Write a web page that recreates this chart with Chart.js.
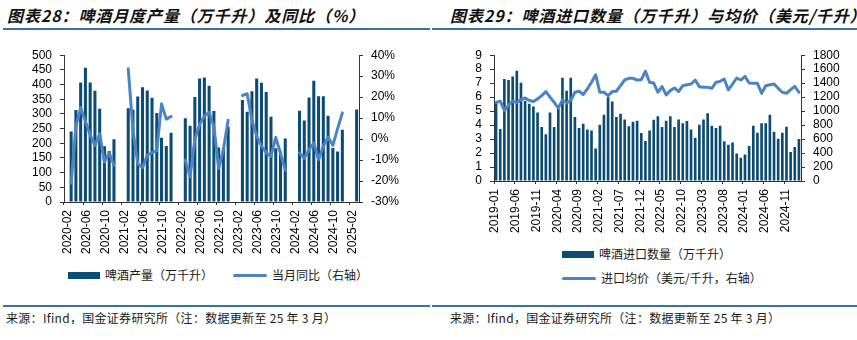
<!DOCTYPE html>
<html lang="zh-CN">
<head>
<meta charset="utf-8">
<title>啤酒产量与进口</title>
<script src="https://cdn.jsdelivr.net/npm/chart.js@4.4.1/dist/chart.umd.min.js"></script>
<style>
  html, body { margin: 0; padding: 0; background: #fff; }
  body { width: 857px; height: 340px; position: relative; overflow: hidden;
         font-family: "Noto Sans CJK SC", sans-serif; color: #1a1a1a; }
  .title { position: absolute; top: 5px; font-size: 16px; line-height: 20px; font-style: italic;
           font-weight: 700; letter-spacing: 0.9px; white-space: nowrap; color: #111; }
  .rule { position: absolute; height: 2px; background: #3f719c; }
  .source { position: absolute; top: 310px; font-size: 12px; line-height: 16px; letter-spacing: 0.3px;
            white-space: nowrap; }
  .legend { position: absolute; font-size: 12px; line-height: 16px; white-space: nowrap;
            display: flex; align-items: center; }
  .legend .box { display: inline-block; width: 32px; height: 7px; margin-right: 5px; }
  .legend .line { display: inline-block; width: 34px; height: 3px; border-radius: 2px; margin-right: 5px; }
  canvas { position: absolute; }
</style>
</head>
<body>

<div class="title" style="left:7px">图表28：啤酒月度产量（万千升）及同比（%）</div>
<div class="rule" style="left:3px; width:427px; top:28px"></div>
<canvas id="chart-production" width="430" height="215" style="left:0; top:40px"></canvas>
<div class="legend" style="left:68px; top:267px"><span class="box" style="background:#0c4b73"></span>啤酒产量（万千升）</div>
<div class="legend" style="left:233px; top:267px"><span class="line" style="background:#4a84c4"></span>当月同比（右轴）</div>
<div class="rule" style="left:3px; width:427px; top:305px"></div>
<div class="source" style="left:6px">来源：Ifind，国金证券研究所（注：数据更新至 25 年 3 月）</div>

<div class="title" style="left:450px">图表29：啤酒进口数量（万千升）与均价（美元/千升）</div>
<div class="rule" style="left:432px; width:425px; top:28px"></div>
<canvas id="chart-import" width="427" height="200" style="left:430px; top:40px"></canvas>
<div class="legend" style="left:562px; top:246px"><span class="box" style="background:#0c4b73"></span>啤酒进口数量（万千升）</div>
<div class="legend" style="left:562px; top:270px"><span class="line" style="background:#4a84c4"></span>进口均价（美元/千升，右轴）</div>
<div class="rule" style="left:432px; width:425px; top:305px"></div>
<div class="source" style="left:450px">来源：Ifind，国金证券研究所（注：数据更新至 25 年 3 月）</div>

<script>
// ── 图表28：月度产量（1月并入2月，12月无数据）──────────────────────────────
const PROD_MONTHS = [
  '2020-01', '2020-02', '2020-03', '2020-04', '2020-05', '2020-06', '2020-07', '2020-08', '2020-09', '2020-10', '2020-11', '2020-12',
  '2021-01', '2021-02', '2021-03', '2021-04', '2021-05', '2021-06', '2021-07', '2021-08', '2021-09', '2021-10', '2021-11', '2021-12',
  '2022-01', '2022-02', '2022-03', '2022-04', '2022-05', '2022-06', '2022-07', '2022-08', '2022-09', '2022-10', '2022-11', '2022-12',
  '2023-01', '2023-02', '2023-03', '2023-04', '2023-05', '2023-06', '2023-07', '2023-08', '2023-09', '2023-10', '2023-11', '2023-12',
  '2024-01', '2024-02', '2024-03', '2024-04', '2024-05', '2024-06', '2024-07', '2024-08', '2024-09', '2024-10', '2024-11', '2024-12',
  '2025-01', '2025-02',
];
// 啤酒产量（万千升）
const PROD_VOLUME = [
  null, 240, 313, 407, 457, 407, 379, 318, 190, 174, 214, null,
  null, 319, 314, 359, 391, 380, 355, 303, 219, 191, 236, null,
  null, 285, 260, 358, 421, 424, 396, 310, 186, 182, 256, null,
  null, 347, 307, 377, 421, 406, 375, 290, 183, 172, 216, null,
  null, 311, 278, 356, 413, 360, 360, 294, 184, 172, 246, null,
  null, 315,
];
// 当月同比（%，右轴）
const PROD_YOY = [
  null, -21, 6, 15, 8.5, 2, -3, 2.5, -11, -6.5, -12.5, null,
  null, 33.5, 4, -11.7, -13.6, -7.7, -6.5, -5.5, 16.8, 9.5, 10.8, null,
  null, -10, -18, 0, 7, 11, 12.7, 6, -14, -5, 9, null,
  null, 20.8, 21.6, 9, 1.4, -3.3, -6.5, -8.3, 0.8, -6.8, -14.8, null,
  null, -6.5, -9.2, -5, -1.8, -9.8, -3.4, 1, -3, 5, 12.5, null,
  null, null,
];
const PROD_AXIS = { min: 0, max: 500, step: 50 };
const PROD_YOY_AXIS = { min: -30, max: 40, step: 10 };

// ── 图表29：进口数量与均价 ──────────────────────────────────────────────────
const IMPORT_MONTHS = [
  '2019-01', '2019-02', '2019-03', '2019-04', '2019-05', '2019-06', '2019-07', '2019-08', '2019-09', '2019-10', '2019-11', '2019-12',
  '2020-01', '2020-02', '2020-03', '2020-04', '2020-05', '2020-06', '2020-07', '2020-08', '2020-09', '2020-10', '2020-11', '2020-12',
  '2021-01', '2021-02', '2021-03', '2021-04', '2021-05', '2021-06', '2021-07', '2021-08', '2021-09', '2021-10', '2021-11', '2021-12',
  '2022-01', '2022-02', '2022-03', '2022-04', '2022-05', '2022-06', '2022-07', '2022-08', '2022-09', '2022-10', '2022-11', '2022-12',
  '2023-01', '2023-02', '2023-03', '2023-04', '2023-05', '2023-06', '2023-07', '2023-08', '2023-09', '2023-10', '2023-11', '2023-12',
  '2024-01', '2024-02', '2024-03', '2024-04', '2024-05', '2024-06', '2024-07', '2024-08', '2024-09', '2024-10', '2024-11', '2024-12',
  '2025-01', '2025-02',
];
// 啤酒进口数量（万千升）
const IMPORT_VOLUME = [
  5.56, 3.72, 7.29, 7.22, 7.48, 7.89, 7.03, 5.75, 5.52, 5.33, 4.90, 3.86,
  3.34, 4.90, 3.86, 5.16, 7.39, 6.46, 7.39, 4.57, 3.79, 4.10, 3.69, 3.62,
  2.32, 4.03, 4.74, 5.99, 5.68, 4.57, 4.81, 4.40, 3.91, 4.24, 4.31, 3.43,
  2.87, 3.62, 4.38, 4.64, 3.86, 4.31, 4.64, 3.86, 4.40, 4.14, 4.29, 3.69,
  3.10, 4.03, 4.40, 4.85, 3.95, 3.79, 3.95, 2.84, 2.60, 2.75, 1.97, 1.66,
  1.89, 2.51, 3.95, 3.46, 4.14, 4.14, 4.74, 3.53, 3.03, 3.46, 3.88, 2.08,
  2.44, 3.01,
];
// 进口均价（美元/千升，右轴）
const IMPORT_PRICE = [
  1123, 1142, 1009, 1085, 1142, 1123, 1161, 1189, 1151, 1137, 1175, 1222,
  1279, 1199, 1127, 1042, 1161, 1118, 1151, 1270, 1284, 1237, 1317, 1412,
  1521, 1270, 1270, 1222, 1279, 1284, 1364, 1445, 1469, 1469, 1445, 1450,
  1570, 1412, 1402, 1270, 1350, 1232, 1293, 1331, 1279, 1364, 1378, 1388,
  1445, 1350, 1340, 1340, 1326, 1412, 1426, 1459, 1303, 1388, 1473, 1445,
  1497, 1402, 1397, 1397, 1255, 1364, 1378, 1388, 1326, 1270, 1255, 1307,
  1355, 1270,
];
const IMPORT_AXIS = { min: 0, max: 9, step: 1 };
const IMPORT_PRICE_AXIS = { min: 0, max: 1800, step: 200 };

// ── 样式常量 ───────────────────────────────────────────────────────────────
const BAR_COLOR = '#0c4b73';
const LINE_COLOR = '#4a84c4';
const AXIS_COLOR = '#333333';
const TEXT_COLOR = '#000000';
const TICK_FONT = { family: '"Liberation Sans", Arial, sans-serif', size: 12 };

function yScale(position, range, width, fmt) {
  return {
    position: position,
    min: range.min,
    max: range.max,
    grid: { drawOnChartArea: false, drawTicks: true, tickLength: 4, color: AXIS_COLOR },
    border: { display: true, color: AXIS_COLOR, width: 1 },
    ticks: {
      stepSize: range.step,
      autoSkip: false,
      padding: 8,
      color: TEXT_COLOR,
      font: TICK_FONT,
      callback: fmt || function (v) { return v; },
    },
    afterFit: function (s) { s.width = width; },
  };
}

// 柱 + 折线双轴组合图
function buildCombo(canvasId, cfg) {
  const canvas = document.getElementById(canvasId);
  return new Chart(canvas.getContext('2d'), {
    data: {
      labels: cfg.labels,
      datasets: [
        {
          type: 'line', label: cfg.lineLabel, data: cfg.lineData, yAxisID: 'y1',
          borderColor: LINE_COLOR, backgroundColor: LINE_COLOR, borderWidth: 3,
          pointRadius: 0, tension: 0, spanGaps: false,
          borderJoinStyle: 'round', borderCapStyle: 'round', order: 0,
        },
        {
          type: 'bar', label: cfg.barLabel, data: cfg.barData, yAxisID: 'y',
          backgroundColor: BAR_COLOR, barPercentage: 0.64, categoryPercentage: 1, order: 1,
        },
      ],
    },
    options: {
      responsive: false, animation: false, devicePixelRatio: 1,
      layout: { padding: { top: cfg.padTop, left: 0, right: 0, bottom: 0 } },
      plugins: { legend: { display: false }, tooltip: { enabled: false } },
      scales: {
        x: {
          type: 'category', offset: true,
          grid: {
            offset: true, drawOnChartArea: false, drawTicks: true, tickLength: 3,
            color: function (ctx) { return ctx.index % cfg.every === 0 ? AXIS_COLOR : 'rgba(0,0,0,0)'; },
          },
          border: { display: true, color: AXIS_COLOR, width: 1 },
          ticks: {
            autoSkip: false, minRotation: 90, maxRotation: 90, padding: 5,
            labelOffset: cfg.labelOffset, color: TEXT_COLOR, font: TICK_FONT,
            callback: function (v, i) { return i % cfg.every === cfg.first ? cfg.labels[i] : ''; },
          },
          afterFit: function (s) { s.height = cfg.xHeight; },
        },
        y: yScale('left', cfg.barAxis, cfg.leftWidth),
        y1: yScale('right', cfg.lineAxis, cfg.rightWidth, cfg.lineFmt),
      },
    },
  });
}

buildCombo('chart-production', {
  labels: PROD_MONTHS,
  barLabel: '啤酒产量（万千升）', barData: PROD_VOLUME, barAxis: PROD_AXIS,
  lineLabel: '当月同比（右轴）', lineData: PROD_YOY, lineAxis: PROD_YOY_AXIS,
  lineFmt: function (v) { return v + '%'; },
  every: 4, first: 1, labelOffset: -3.5,
  padTop: 15, xHeight: 53, leftWidth: 64, rightWidth: 71,
});

buildCombo('chart-import', {
  labels: IMPORT_MONTHS,
  barLabel: '啤酒进口数量（万千升）', barData: IMPORT_VOLUME, barAxis: IMPORT_AXIS,
  lineLabel: '进口均价（美元/千升，右轴）', lineData: IMPORT_PRICE, lineAxis: IMPORT_PRICE_AXIS,
  every: 5, first: 0, labelOffset: -1,
  padTop: 14, xHeight: 59, leftWidth: 64, rightWidth: 56,
});
</script>
</body>
</html>
